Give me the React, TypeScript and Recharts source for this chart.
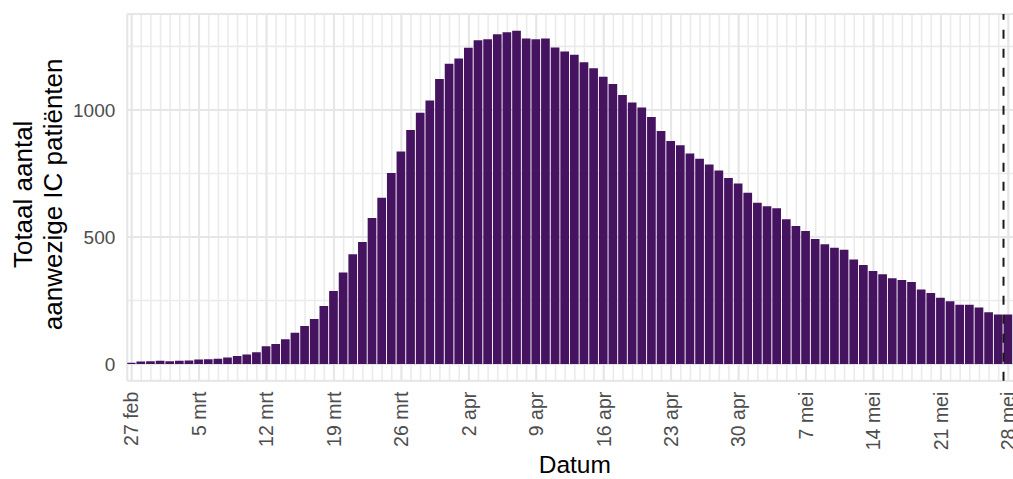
import { BarChart, Bar, XAxis, YAxis, CartesianGrid, ReferenceLine, Label } from 'recharts';

// aanwezige IC patiënten per dag, 27 feb t/m 28 mei
const icPatients = [
  5, 10, 11, 13, 11, 13, 14, 18, 19, 21,
  26, 32, 38, 46, 70, 79, 98, 123, 150, 177,
  228, 287, 360, 432, 480, 575, 654, 752, 836, 921,
  989, 1037, 1122, 1182, 1202, 1245, 1274, 1278, 1298, 1306,
  1312, 1281, 1278, 1281, 1246, 1230, 1217, 1188, 1164, 1131,
  1102, 1059, 1029, 1010, 972, 917, 878, 861, 829, 808,
  785, 762, 732, 711, 674, 635, 621, 613, 570, 543,
  524, 492, 471, 458, 450, 411, 390, 366, 353, 338,
  331, 323, 293, 280, 261, 247, 233, 233, 222, 204,
  195, 195,
];

const weekTicks = [0, 7, 14, 21, 28, 35, 42, 49, 56, 63, 70, 77, 84, 91];
const weekLabels = [
  '27 feb', '5 mrt', '12 mrt', '19 mrt', '26 mrt', '2 apr', '9 apr',
  '16 apr', '23 apr', '30 apr', '7 mei', '14 mei', '21 mei', '28 mei',
];
const dayTicks = icPatients.map((_, i) => i);
const majorY = [0, 500, 1000];
const minorY = [250, 750, 1250];
const cutoffDay = 90.5;

const data = icPatients.map((value, day) => ({ day, value }));

const FONT = '"Liberation Sans", Arial, sans-serif';
const X_DOMAIN: [number, number] = [-0.45, 92.45];
const Y_DOMAIN: [number, number] = [-65.6, 1377.6];

function DateTick({ x, y, payload }: any) {
  const idx = weekTicks.indexOf(payload.value);
  return (
    <g transform={`translate(${x},${y})`}>
      <text
        transform="rotate(-90)"
        textAnchor="end"
        dy="0.35em"
        fontSize={19.5}
        fontFamily={FONT}
        fill="#4d4d4d"
      >
        {idx >= 0 ? weekLabels[idx] : ''}
      </text>
    </g>
  );
}

function YTitle({ viewBox }: any) {
  const cy = viewBox.y + viewBox.height / 2 - 3;
  const common = {
    textAnchor: 'middle' as const,
    dominantBaseline: 'central' as const,
    fontSize: 26,
    fontFamily: FONT,
    fill: '#000',
  };
  return (
    <g>
      <text transform={`translate(23,${cy}) rotate(-90)`} {...common}>Totaal aantal</text>
      <text transform={`translate(53,${cy}) rotate(-90)`} {...common}>aanwezige IC patiënten</text>
    </g>
  );
}

export default function App() {
  return (
    <div style={{ position: 'absolute', left: 0, top: 0, width: 1013, height: 479, overflow: 'hidden', background: '#fff' }}>
      <BarChart width={1023} height={479} data={data} margin={{ top: 14, right: 0.7, left: 0, bottom: 0 }}>
        <XAxis xAxisId="minor" dataKey="day" type="number" domain={X_DOMAIN} allowDataOverflow ticks={dayTicks} interval={0} hide />
        <YAxis yAxisId="minor" type="number" domain={Y_DOMAIN} allowDataOverflow ticks={minorY} interval={0} hide />
        <XAxis
          xAxisId="main"
          dataKey="day"
          type="number"
          domain={X_DOMAIN}
          allowDataOverflow
          ticks={weekTicks}
          interval={0}
          tick={<DateTick />}
          tickLine={false}
          axisLine={false}
          tickSize={0}
          tickMargin={11}
          height={98.3}
        >
          <Label value="Datum" position="insideBottom" offset={6} fontSize={24.5} fontFamily={FONT} fill="#000" />
        </XAxis>
        <YAxis
          yAxisId="main"
          type="number"
          domain={Y_DOMAIN}
          allowDataOverflow
          ticks={majorY}
          interval={0}
          width={127.3}
          tickLine={false}
          axisLine={false}
          tickSize={0}
          tickMargin={12}
          tick={{ fontSize: 19, fill: '#4d4d4d', fontFamily: FONT }}
        >
          <Label content={<YTitle />} />
        </YAxis>
        <CartesianGrid xAxisId="minor" yAxisId="minor" stroke="#ebebeb" strokeWidth={1.6} />
        <CartesianGrid xAxisId="main" yAxisId="main" stroke="#e6e6e6" strokeWidth={2} />
        <Bar
          xAxisId="main"
          yAxisId="main"
          dataKey="value"
          fill="#45135f"
          barSize={8.7}
          isAnimationActive={false}
        />
        <ReferenceLine
          xAxisId="main"
          yAxisId="main"
          x={cutoffDay}
          stroke="#1a1a1a"
          strokeWidth={2}
          strokeDasharray="9 10"
        />
      </BarChart>
    </div>
  );
}
